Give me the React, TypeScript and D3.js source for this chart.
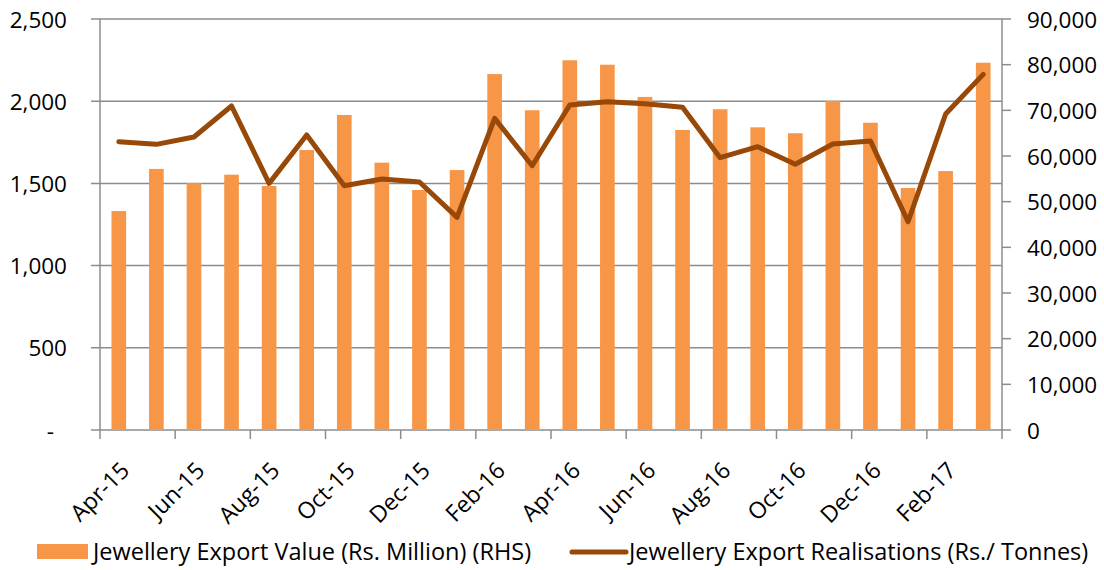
import * as d3 from "d3";

const months = [
  "Apr-15", "May-15", "Jun-15", "Jul-15", "Aug-15", "Sep-15", "Oct-15", "Nov-15",
  "Dec-15", "Jan-16", "Feb-16", "Mar-16", "Apr-16", "May-16", "Jun-16", "Jul-16",
  "Aug-16", "Sep-16", "Oct-16", "Nov-16", "Dec-16", "Jan-17", "Feb-17", "Mar-17",
];

const exportValue = [
  1332, 1588, 1502, 1553, 1484, 1703, 1916, 1626, 1460, 1581, 2165, 1945,
  2249, 2222, 2026, 1825, 1951, 1841, 1805, 2001, 1869, 1472, 1575, 2234,
];

const realisations = [
  63130, 62550, 64160, 70950, 54010, 64600, 53500, 54960, 54300, 46570, 68250, 57870,
  71160, 71890, 71450, 70660, 59630, 62040, 58180, 62620, 63280, 45610, 69190, 77880,
];

const leftTicks = [0, 500, 1000, 1500, 2000, 2500];
const rightTicks = [0, 10000, 20000, 30000, 40000, 50000, 60000, 70000, 80000, 90000];

const barLabel = "Jewellery Export Value (Rs. Million) (RHS)";
const lineLabel = "Jewellery Export Realisations (Rs./ Tonnes)";

export default function App() {
  const width = 1104;
  const height = 570;
  const margin = { top: 19, right: 102, bottom: 140, left: 100 };
  const font = "'Open Sans', Lato, sans-serif";
  const gridColor = "#8c8c8c";

  const x = d3
    .scaleBand()
    .domain(months)
    .range([margin.left, width - margin.right]);
  const yLeft = d3.scaleLinear().domain([0, 2500]).range([height - margin.bottom, margin.top]);
  const yRight = d3.scaleLinear().domain([0, 90000]).range([height - margin.bottom, margin.top]);

  const barW = x.bandwidth() * 0.39;
  const line = d3
    .line<number>()
    .x((_, i) => (x(months[i]) ?? 0) + x.bandwidth() / 2)
    .y((d) => yRight(d));
  const fmt = d3.format(",");
  const y0 = yLeft(0);
  const x0 = margin.left;
  const x1 = width - margin.right;

  return (
    <svg
      width={width}
      height={height}
      style={{ position: "absolute", left: 0, top: 0, background: "#fff" }}
      fontFamily={font}
    >
      {leftTicks.map((t) => (
        <g key={t}>
          <line x1={x0 - 9} x2={x1} y1={yLeft(t)} y2={yLeft(t)} stroke={gridColor} strokeWidth={1.5} />
          <text
            x={t === 0 ? 54 : 67}
            y={yLeft(t)}
            textAnchor="end"
            dominantBaseline="central"
            fontSize={22.5}
            fill="#000"
          >
            {t === 0 ? "-" : fmt(t)}
          </text>
        </g>
      ))}

      {rightTicks.map((t) => (
        <g key={t}>
          <line x1={x1} x2={x1 + 9} y1={yRight(t)} y2={yRight(t)} stroke={gridColor} strokeWidth={1.5} />
          <text x={1027} y={yRight(t)} dominantBaseline="central" fontSize={22.5} fill="#000">
            {fmt(t)}
          </text>
        </g>
      ))}

      <line x1={x0} x2={x0} y1={margin.top} y2={y0 + 9} stroke={gridColor} strokeWidth={1.5} />
      <line x1={x1} x2={x1} y1={margin.top} y2={y0 + 9} stroke={gridColor} strokeWidth={1.5} />

      {months.map((m, i) =>
        i % 2 === 0 && i > 0 ? (
          <line
            key={m}
            x1={x(m) ?? 0}
            x2={x(m) ?? 0}
            y1={y0}
            y2={y0 + 9}
            stroke={gridColor}
            strokeWidth={1.5}
          />
        ) : null
      )}

      {exportValue.map((v, i) => (
        <rect
          key={months[i]}
          x={(x(months[i]) ?? 0) + (x.bandwidth() - barW) / 2}
          y={yLeft(v)}
          width={barW}
          height={y0 - yLeft(v)}
          fill="#f79646"
        />
      ))}

      <path
        d={line(realisations) ?? ""}
        fill="none"
        stroke="#984807"
        strokeWidth={5}
        strokeLinejoin="round"
        strokeLinecap="round"
      />

      {months.map((m, i) => {
        if (i % 2 !== 0) return null;
        const cx = (x(m) ?? 0) + x.bandwidth() / 2 + 12;
        return (
          <text
            key={m}
            transform={`translate(${cx},${y0 + 42}) rotate(-45)`}
            textAnchor="end"
            fontSize={23}
            fill="#000"
          >
            {m}
          </text>
        );
      })}

      <rect x={37} y={544} width={51} height={15} fill="#f79646" />
      <text x={93} y={560} fontSize={23.5} fill="#000">
        {barLabel}
      </text>
      <line x1={572} x2={626} y1={552} y2={552} stroke="#984807" strokeWidth={5} strokeLinecap="round" />
      <text x={629} y={560} fontSize={23.5} fill="#000">
        {lineLabel}
      </text>
    </svg>
  );
}
